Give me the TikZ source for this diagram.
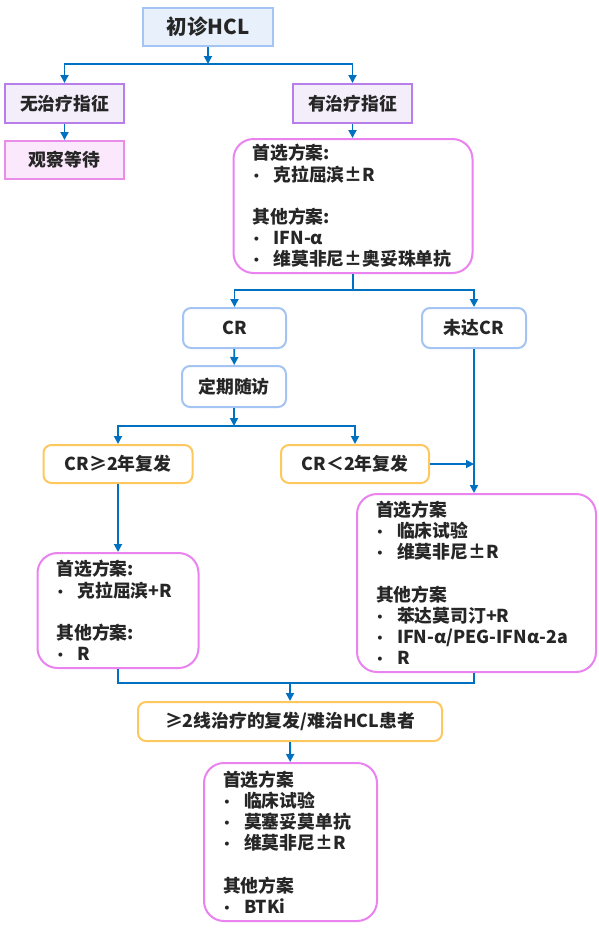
\documentclass[tikz,border=0pt]{standalone}
\usepackage{fontspec}
\setmainfont{Noto Sans CJK SC}
\usepackage{tikz}
\usetikzlibrary{calc}
\usetikzlibrary{positioning}
\usetikzlibrary{arrows.meta}
\definecolor{arrblue}{RGB}{0,112,192}
\definecolor{lblue}{RGB}{164,196,244}
\definecolor{lbluefill}{RGB}{232,240,251}
\definecolor{purp}{RGB}{183,125,232}
\definecolor{purpfill}{RGB}{244,238,251}
\definecolor{pinkb}{RGB}{233,140,234}
\definecolor{pinkfill}{RGB}{252,232,252}
\definecolor{violet}{RGB}{234,130,240}
\definecolor{orng}{RGB}{255,200,95}
\newcommand{\itm}{\makebox[8pt][c]{\scalebox{0.8}{\textbullet}}\hspace*{13pt}}

\begin{document}
\begin{tikzpicture}[x=1pt,y=-1pt]
\tikzstyle{txt}=[font=\fontsize{17.8}{21.2}\selectfont\bfseries,text=black!85,line width=2pt,inner sep=0pt]
\tikzstyle{start}=[txt,rectangle,draw=lblue,fill=lbluefill,align=center,font=\fontsize{20.5}{24}\selectfont\bfseries]
\tikzstyle{ind}=[txt,rectangle,draw=purp,fill=purpfill,align=center]
\tikzstyle{wait}=[txt,rectangle,draw=pinkb,fill=pinkfill,align=center]
\tikzstyle{resp}=[txt,rectangle,rounded corners=8pt,draw=lblue,fill=white,align=center]
\tikzstyle{relapse}=[txt,rectangle,rounded corners=8pt,draw=orng,fill=white,align=center]
\tikzstyle{plan}=[txt,rectangle,rounded corners=20pt,draw=violet,fill=white,align=left,inner xsep=19pt]
\tikzstyle{arr}=[-{Triangle[length=8pt,width=8pt]},line width=1.8pt,draw=arrblue]
\tikzstyle{ln}=[line width=1.8pt,draw=arrblue]
\useasboundingbox (0,0) rectangle (599,930);

\node[start,minimum width=130pt,minimum height=38pt] at(208, 27) (hcl) {初诊HCL};
\node[ind,minimum width=119pt,minimum height=39pt] at(64.5, 103.5) (noind) {无治疗指征};
\node[ind,minimum width=119pt,minimum height=39pt] at(352.5, 103.5) (ind) {有治疗指征};
\node[wait,minimum width=119pt,minimum height=38pt] at(64.5, 160) (watch) {观察等待};
\node[plan,text width=201pt,minimum height=134pt] at(353, 206) (first) {首选方案:\\
  \itm 克拉屈滨±R\\[\baselineskip]
  其他方案:\\
  \itm IFN-α\\
  \itm 维莫非尼±奥妥珠单抗};
\node[resp,minimum width=103pt,minimum height=40pt] at(234.5, 328) (cr) {CR};
\node[resp,minimum width=104pt,minimum height=40pt] at(474, 328) (nocr) {未达CR};
\node[resp,minimum width=104pt,minimum height=41pt] at(234, 386.5) (fu) {定期随访};
\node[relapse,minimum width=149pt,minimum height=38pt] at(118, 464) (late) {CR≥2年复发};
\node[relapse,minimum width=148pt,minimum height=38pt] at(355, 464) (early) {CR＜2年复发};
\node[plan,text width=123pt,minimum height=115pt] at(118, 610.5) (latetx) {首选方案:\\
  \itm 克拉屈滨+R\\[\baselineskip]
  其他方案:\\
  \itm R};
\node[plan,text width=201pt,minimum height=178pt] at(476.5, 583) (earlytx) {首选方案\\
  \itm 临床试验\\
  \itm 维莫非尼±R\\[\baselineskip]
  其他方案\\
  \itm 苯达莫司汀+R\\
  \itm IFN-α/PEG-IFNα-2a\\
  \itm R};
\node[relapse,minimum width=304pt,minimum height=39pt] at(290, 721.5) (rr) {≥2线治疗的复发/难治HCL患者};
\node[plan,text width=135pt,minimum height=158pt] at(290.5, 842) (rrtx) {首选方案\\
  \itm 临床试验\\
  \itm 莫塞妥莫单抗\\
  \itm 维莫非尼±R\\[\baselineskip]
  其他方案\\
  \itm BTKi};

% junctions
\coordinate (j1) at (208, 64);
\coordinate (j2) at (353, 290);
\coordinate (j3) at (234, 426);
\coordinate (j4) at (290, 683);

\draw[arr] (hcl.south) -- (j1);
\draw[arr] (j1) -| (noind.north);
\draw[arr] (j1) -| (ind.north);
\draw[arr] (noind) -- (watch);
\draw[arr] (ind) -- (ind.south |- first.north);
\draw[ln] (first.south) -- (j2);
\draw[arr] (j2) -| (cr.north);
\draw[arr] (j2) -| (nocr.north);
\draw[arr] (cr) -- (fu);
\draw[arr] (fu.south) -- (j3);
\draw[arr] (j3) -| (late.north);
\draw[arr] (j3) -| (early.north);
\draw[arr] (nocr.south) -- (nocr.south |- earlytx.north);
\draw[arr] (early.east) -- (nocr.south |- early.east);
\draw[arr] (late.south) -- (late.south |- latetx.north);
\draw[ln] (latetx.south) |- (j4) -| (nocr.south |- earlytx.south);
\draw[arr] (j4) -- (rr.north);
\draw[arr] (rr) -- (rrtx);
\end{tikzpicture}
\end{document}
